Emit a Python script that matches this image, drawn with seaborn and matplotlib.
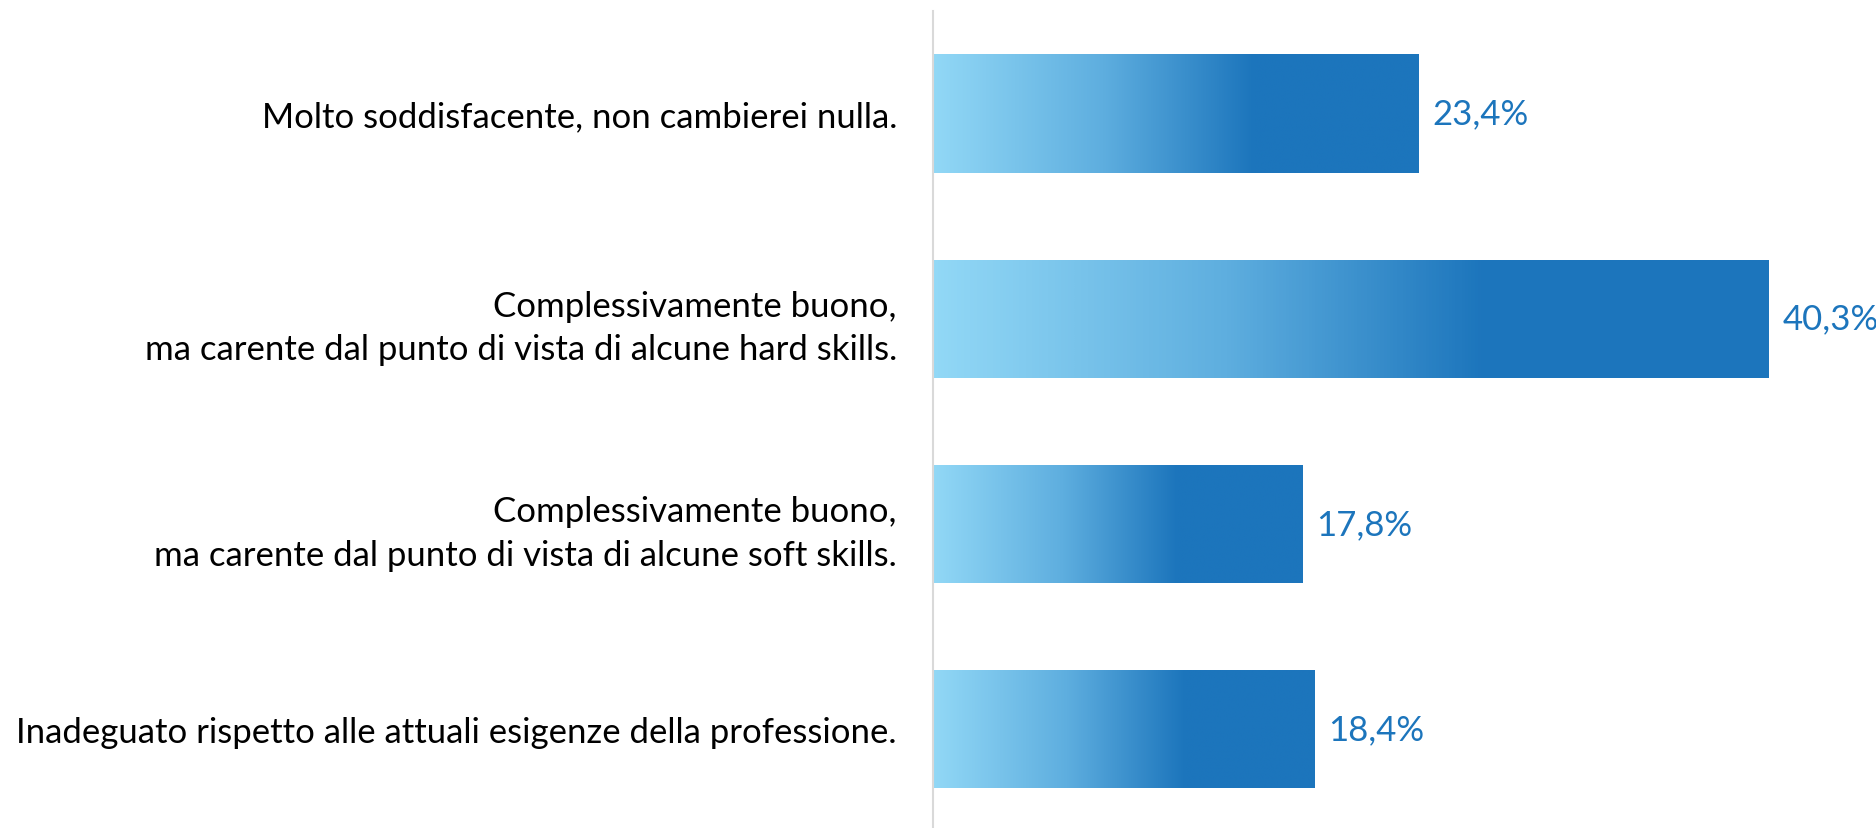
import numpy as np
import pandas as pd
import matplotlib
matplotlib.use("Agg")
import matplotlib.pyplot as plt
from matplotlib.colors import LinearSegmentedColormap
import seaborn as sns

categories = [
    "Molto soddisfacente, non cambierei nulla.",
    "Complessivamente buono,\nma carente dal punto di vista di alcune hard skills.",
    "Complessivamente buono,\nma carente dal punto di vista di alcune soft skills.",
    "Inadeguato rispetto alle attuali esigenze della professione.",
]
values = [23.4, 40.3, 17.8, 18.4]
value_labels = ["23,4%", "40,3%", "17,8%", "18,4%"]

sns.set_theme(style="white")
plt.rcParams["font.family"] = ["Lato", "DejaVu Sans"]

df = pd.DataFrame({"cat": categories, "val": values})

fig = plt.figure(figsize=(18.76, 8.29), dpi=100)
ax = fig.add_axes([933 / 1876, 0.0, 1 - 933 / 1876, 1 - 12 / 829])

sns.barplot(data=df, x="val", y="cat", ax=ax, color="#1c75bc", width=0.577,
            saturation=1, edgecolor="none")

cmap = LinearSegmentedColormap.from_list(
    "g", [(0, "#92d8f6"), (0.35, "#5eaedf"), (0.66, "#1c75bc"), (1.0, "#1c75bc")])
grad = np.linspace(0, 1, 256).reshape(1, -1)
for p in ax.patches:
    x0, y0 = p.get_x(), p.get_y()
    w, h = p.get_width(), p.get_height()
    im = ax.imshow(grad, cmap=cmap, aspect="auto",
                   extent=[x0, x0 + w, y0 + h, y0], zorder=p.get_zorder() + 0.1,
                   interpolation="bilinear")
    im.set_clip_path(p)
ax.set_xlim(0, 45.47)
ax.set_ylim(3.483, -0.5)

for i, (v, lab) in enumerate(zip(values, value_labels)):
    ax.annotate(lab, (v, i), xytext=(10, 0), textcoords="offset points",
                va="center", ha="left", fontsize=25, color="#1c75bc")

ax.set_xlabel("")
ax.set_ylabel("")
ax.set_xticks([])
ax.tick_params(axis="y", length=0, pad=26, labelsize=25, labelcolor="black")
for t in ax.get_yticklabels():
    t.set_linespacing(1.45)
for s in ["top", "right", "bottom"]:
    ax.spines[s].set_visible(False)
ax.spines["left"].set_color("#d9d9d9")
ax.spines["left"].set_linewidth(1.5)

fig.savefig("out.png", dpi=100, facecolor="white")
